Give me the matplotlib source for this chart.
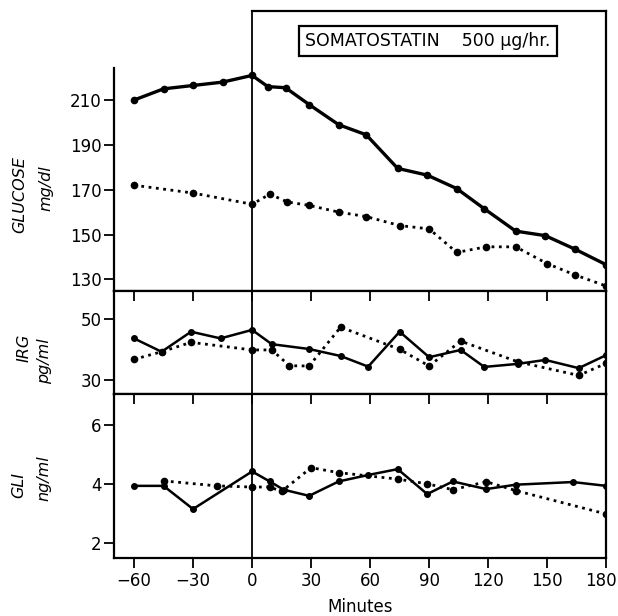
import matplotlib
matplotlib.use("Agg")
import matplotlib.pyplot as plt
import matplotlib.transforms as mtransforms

# time points (minutes) and values
glu_solid_t = [-60, -45, -30, -15, 0, 8, 17, 29, 44, 58, 74, 89, 104, 118, 134, 149, 164, 180]
glu_solid_v = [210, 215, 216.5, 218, 221, 216, 215.5, 208, 199, 194.5, 179.5, 176.5, 170.5, 161.5, 151.5, 149.5, 143.5, 136.5]
glu_dot_t = [-60, -30, 0, 9, 18, 29, 44, 58, 75, 90, 104, 119, 134, 150, 164, 180]
glu_dot_v = [172, 168.5, 163.5, 168, 164.5, 163, 160, 158, 154, 152.5, 142, 144.5, 144.5, 137, 132, 127]

irg_solid_t = [-60, -46, -31, -16, 0, 10, 29, 45, 59, 75, 90, 106, 118, 135, 149, 166, 180]
irg_solid_v = [43.7, 39.3, 45.9, 43.7, 46.5, 41.8, 40.2, 37.9, 34.4, 45.9, 37.5, 39.9, 34.3, 35.3, 36.6, 33.9, 38.2]
irg_dot_t = [-60, -46, -31, 0, 10, 19, 29, 45, 75, 90, 106, 135, 166, 180]
irg_dot_v = [36.8, 39.3, 42.4, 39.9, 39.9, 34.7, 34.6, 47.4, 40.1, 34.6, 42.8, 36.0, 31.5, 35.5]

gli_solid_t = [-60, -45, -30, 0, 9, 16, 29, 44, 59, 74, 89, 102, 119, 134, 163, 180]
gli_solid_v = [3.94, 3.94, 3.15, 4.43, 4.09, 3.81, 3.60, 4.09, 4.31, 4.51, 3.66, 4.09, 3.83, 3.98, 4.07, 3.94]
gli_dot_t = [-45, -18, 0, 9, 15, 30, 44, 74, 89, 102, 119, 134, 180]
gli_dot_v = [4.11, 3.94, 3.90, 3.90, 3.75, 4.56, 4.39, 4.17, 4.01, 3.81, 4.08, 3.78, 2.98]

x_ticks = [-60, -30, 0, 30, 60, 90, 120, 150, 180]

plt.rcParams['font.family'] = 'DejaVu Sans'
W, H = 618, 616
fig = plt.figure(figsize=(W / 100, H / 100), dpi=100)

left, width = 0.185, 0.796
ax1 = fig.add_axes([left, 0.528, width, 0.454])
ax2 = fig.add_axes([left, 0.360, width, 0.168])
ax3 = fig.add_axes([left, 0.094, width, 0.266])

for ax in (ax1, ax2, ax3):
    ax.set_xlim(-70, 180)
    ax.axvline(0, color='black', lw=1.3, zorder=1)
    for s in ax.spines.values():
        s.set_linewidth(1.6)
    ax.tick_params(axis='y', direction='out', length=7, width=1.3, labelsize=12, pad=2)

# Glucose
ax1.plot(glu_solid_t, glu_solid_v, color='black', lw=2.4, marker='o', ms=4.5)
ax1.plot(glu_dot_t, glu_dot_v, color='black', lw=2, ls=':', marker='o', ms=4.5)
ax1.set_ylim(124.9, 249.7)
ax1.set_yticks([130, 150, 170, 190, 210])
ax1.spines['top'].set_visible(False)
ax1.spines['left'].set_bounds(124.9, 224.2)
ax1.plot([0, 180], [249.7, 249.7], color='black', lw=1.6, clip_on=False)
ax1.set_xticks([])
ax1.text(89.5, 236.3, "SOMATOSTATIN    500 \u00b5g/hr.", ha='center', va='center', fontsize=12.5,
         bbox=dict(boxstyle='square,pad=0.35', fc='white', ec='black', lw=1.6))

# IRG
ax2.plot(irg_solid_t, irg_solid_v, color='black', lw=1.8, marker='o', ms=4)
ax2.plot(irg_dot_t, irg_dot_v, color='black', lw=2, ls=':', marker='o', ms=4.5)
ax2.set_ylim(25.3, 59.4)
ax2.set_yticks([30, 50])
ax2.set_xticks(x_ticks[:-1])
ax2.tick_params(axis='x', top=True, bottom=False, labeltop=False, labelbottom=False,
                direction='in', length=7, width=1.3)

# GLI
ax3.plot(gli_solid_t, gli_solid_v, color='black', lw=1.8, marker='o', ms=4)
ax3.plot(gli_dot_t, gli_dot_v, color='black', lw=2, ls=':', marker='o', ms=4.5)
ax3.set_ylim(1.48, 7.06)
ax3.set_yticks([2, 4, 6])
ax3.set_xticks(x_ticks)
ax3.tick_params(axis='x', bottom=True, top=False, direction='out', length=7, width=1.3,
                labelsize=12, pad=3)
# nudge the last tick label so it stays inside the figure
last = ax3.get_xticklabels()[-1]
last.set_transform(last.get_transform() + mtransforms.ScaledTranslation(-5 / 100, 0, fig.dpi_scale_trans))
sec = ax3.secondary_xaxis('top')
sec.set_xticks(x_ticks[:-1])
sec.tick_params(direction='in', length=7, width=1.3, labeltop=False)
sec.spines['top'].set_visible(False)
ax3.set_xlabel("Minutes", fontsize=12, labelpad=6)

# rotated y labels, placed in pixel positions of the original
def ylab(text, px, py):
    fig.text(px / W, 1 - py / H, text, rotation=90, ha='center', va='center',
             fontsize=11.5, style='italic')

ylab("GLUCOSE", 20, 195)
ylab("mg/dl", 46, 188)
ylab("IRG", 24, 348)
ylab("pg/ml", 45, 361)
ylab("GLI", 19, 485)
ylab("ng/ml", 44, 478)

fig.savefig("out.png", dpi=100)
